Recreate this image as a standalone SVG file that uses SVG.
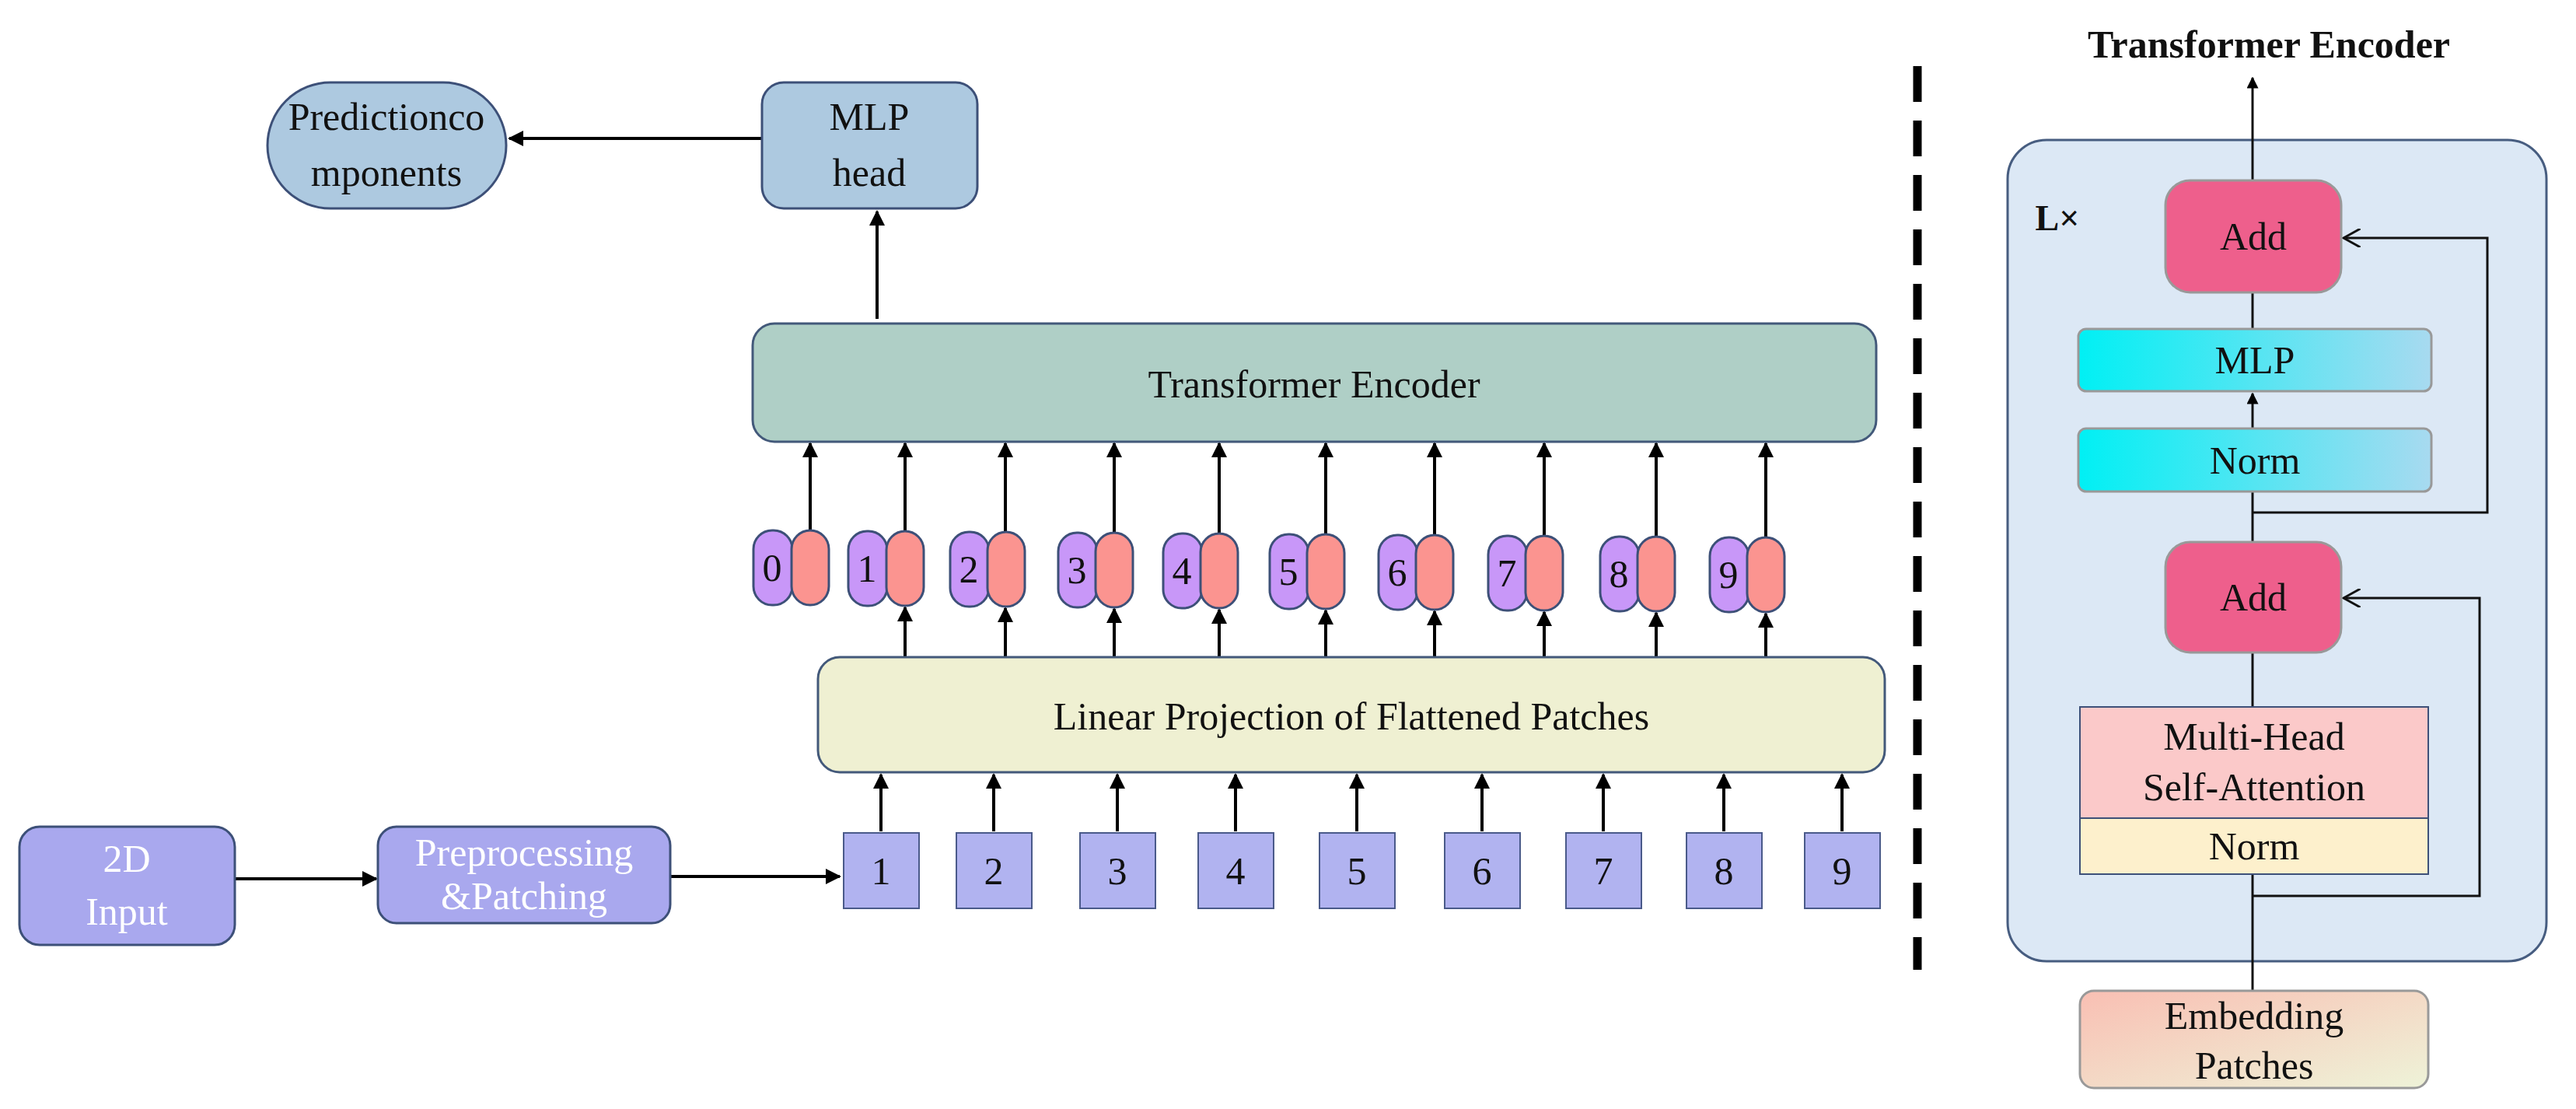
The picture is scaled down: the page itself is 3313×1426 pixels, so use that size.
<svg xmlns="http://www.w3.org/2000/svg" width="3313" height="1426" viewBox="0 0 3313 1426">
<style>
text{font-family:"Liberation Serif","Times New Roman",serif;font-size:50px;fill:#111;text-anchor:middle;dominant-baseline:central}
.w{fill:#fff}
.ln{stroke:#000;stroke-width:4;fill:none}
.thin{stroke:#111;stroke-width:3;fill:none}
.pu{fill:#a9a8ee;stroke:#3d5078;stroke-width:3}
.tk1{fill:#c897f8;stroke:#3d5078;stroke-width:3}
.tk2{fill:#fb9490;stroke:#3d5078;stroke-width:3}
.sq{fill:#b1b3f0;stroke:#4a5a8a;stroke-width:2}
.gb{stroke:#999;stroke-width:3}
</style>
<defs>
<marker id="a" viewBox="0 0 10 10" refX="9" refY="5" markerWidth="5" markerHeight="5" orient="auto"><path d="M0,0L10,5L0,10z" fill="#000"/></marker>
<marker id="o" viewBox="0 0 10 10" refX="9" refY="5" markerWidth="8" markerHeight="8" orient="auto"><path d="M0,0L9,5L0,10" fill="none" stroke="#111" stroke-width="1.2"/></marker>
<linearGradient id="cy" x1="0" x2="1"><stop offset="0" stop-color="#00f0f4"/><stop offset="1" stop-color="#a8daf0"/></linearGradient>
<linearGradient id="em" x1="0" y1="0" x2="1" y2="1"><stop offset="0" stop-color="#f9bfb3"/><stop offset="1" stop-color="#eef3d8"/></linearGradient>
</defs>
<g id="connectors">
<line class="ln" x1="980" y1="178" x2="655" y2="178" marker-end="url(#a)"/>
<line class="ln" x1="1128" y1="410" x2="1128" y2="272" marker-end="url(#a)"/>
<line class="ln" x1="302" y1="1130" x2="484" y2="1130" marker-end="url(#a)"/>
<line class="ln" x1="862" y1="1127" x2="1080" y2="1127" marker-end="url(#a)"/>
<g id="tok-up">
<line class="ln" x1="1042" y1="682" x2="1042" y2="570" marker-end="url(#a)"/>
<line class="ln" x1="1164" y1="683" x2="1164" y2="570" marker-end="url(#a)"/>
<line class="ln" x1="1293" y1="684" x2="1293" y2="570" marker-end="url(#a)"/>
<line class="ln" x1="1433" y1="685" x2="1433" y2="570" marker-end="url(#a)"/>
<line class="ln" x1="1568" y1="686" x2="1568" y2="570" marker-end="url(#a)"/>
<line class="ln" x1="1705" y1="687" x2="1705" y2="570" marker-end="url(#a)"/>
<line class="ln" x1="1845" y1="688" x2="1845" y2="570" marker-end="url(#a)"/>
<line class="ln" x1="1986" y1="689" x2="1986" y2="570" marker-end="url(#a)"/>
<line class="ln" x1="2130" y1="690" x2="2130" y2="570" marker-end="url(#a)"/>
<line class="ln" x1="2271" y1="691" x2="2271" y2="570" marker-end="url(#a)"/>
</g>
<g id="lin-up">
<line class="ln" x1="1164" y1="845" x2="1164" y2="781" marker-end="url(#a)"/>
<line class="ln" x1="1293" y1="845" x2="1293" y2="782" marker-end="url(#a)"/>
<line class="ln" x1="1433" y1="845" x2="1433" y2="783" marker-end="url(#a)"/>
<line class="ln" x1="1568" y1="845" x2="1568" y2="784" marker-end="url(#a)"/>
<line class="ln" x1="1705" y1="845" x2="1705" y2="785" marker-end="url(#a)"/>
<line class="ln" x1="1845" y1="845" x2="1845" y2="786" marker-end="url(#a)"/>
<line class="ln" x1="1986" y1="845" x2="1986" y2="787" marker-end="url(#a)"/>
<line class="ln" x1="2130" y1="845" x2="2130" y2="788" marker-end="url(#a)"/>
<line class="ln" x1="2271" y1="845" x2="2271" y2="789" marker-end="url(#a)"/>
</g>
<g id="sq-up">
<line class="ln" x1="1133" y1="1069" x2="1133" y2="996" marker-end="url(#a)"/>
<line class="ln" x1="1278" y1="1069" x2="1278" y2="996" marker-end="url(#a)"/>
<line class="ln" x1="1437" y1="1069" x2="1437" y2="996" marker-end="url(#a)"/>
<line class="ln" x1="1589" y1="1069" x2="1589" y2="996" marker-end="url(#a)"/>
<line class="ln" x1="1745" y1="1069" x2="1745" y2="996" marker-end="url(#a)"/>
<line class="ln" x1="1906" y1="1069" x2="1906" y2="996" marker-end="url(#a)"/>
<line class="ln" x1="2062" y1="1069" x2="2062" y2="996" marker-end="url(#a)"/>
<line class="ln" x1="2217" y1="1069" x2="2217" y2="996" marker-end="url(#a)"/>
<line class="ln" x1="2369" y1="1069" x2="2369" y2="996" marker-end="url(#a)"/>
</g>
<line x1="2466" y1="85" x2="2466" y2="1247" stroke="#000" stroke-width="11" stroke-dasharray="46,24"/>
</g>
<g id="prediction"><rect class="pu" x="344" y="106" width="307" height="162" rx="81" style="fill:#adc9e0"/><text x="497" y="150">Predictionco</text><text x="497" y="222">mponents</text></g>
<g id="mlphead"><rect class="pu" x="980" y="106" width="277" height="162" rx="28" style="fill:#adc9e0"/><text x="1118" y="150">MLP</text><text x="1118" y="222">head</text></g>
<g id="transformer"><rect x="968" y="416" width="1445" height="152" rx="28" fill="#afcfc6" stroke="#43597a" stroke-width="3"/><text x="1690" y="494">Transformer Encoder</text></g>
<g id="tokens">
<g><rect class="tk1" x="969" y="682" width="50" height="96" rx="24"/><rect class="tk2" x="1018" y="682" width="48" height="96" rx="24"/><text x="993" y="730">0</text></g>
<g><rect class="tk1" x="1091" y="683" width="50" height="96" rx="24"/><rect class="tk2" x="1140" y="683" width="48" height="96" rx="24"/><text x="1115" y="731">1</text></g>
<g><rect class="tk1" x="1222" y="684" width="50" height="96" rx="24"/><rect class="tk2" x="1270" y="684" width="48" height="96" rx="24"/><text x="1246" y="732">2</text></g>
<g><rect class="tk1" x="1361" y="685" width="50" height="96" rx="24"/><rect class="tk2" x="1409" y="685" width="48" height="96" rx="24"/><text x="1385" y="733">3</text></g>
<g><rect class="tk1" x="1496" y="686" width="50" height="96" rx="24"/><rect class="tk2" x="1544" y="686" width="48" height="96" rx="24"/><text x="1520" y="734">4</text></g>
<g><rect class="tk1" x="1633" y="687" width="50" height="96" rx="24"/><rect class="tk2" x="1681" y="687" width="48" height="96" rx="24"/><text x="1657" y="735">5</text></g>
<g><rect class="tk1" x="1773" y="688" width="50" height="96" rx="24"/><rect class="tk2" x="1821" y="688" width="48" height="96" rx="24"/><text x="1797" y="736">6</text></g>
<g><rect class="tk1" x="1914" y="689" width="50" height="96" rx="24"/><rect class="tk2" x="1962" y="689" width="48" height="96" rx="24"/><text x="1938" y="737">7</text></g>
<g><rect class="tk1" x="2058" y="690" width="50" height="96" rx="24"/><rect class="tk2" x="2106" y="690" width="48" height="96" rx="24"/><text x="2082" y="738">8</text></g>
<g><rect class="tk1" x="2199" y="691" width="50" height="96" rx="24"/><rect class="tk2" x="2247" y="691" width="48" height="96" rx="24"/><text x="2223" y="739">9</text></g>
</g>
<g id="linear"><rect x="1052" y="845" width="1372" height="148" rx="28" fill="#eff0d2" stroke="#43597a" stroke-width="3"/><text x="1738" y="921">Linear Projection of Flattened Patches</text></g>
<g id="patches">
<rect class="sq" x="1085" y="1071" width="97" height="97"/><text x="1133" y="1120">1</text>
<rect class="sq" x="1230" y="1071" width="97" height="97"/><text x="1278" y="1120">2</text>
<rect class="sq" x="1389" y="1071" width="97" height="97"/><text x="1437" y="1120">3</text>
<rect class="sq" x="1541" y="1071" width="97" height="97"/><text x="1589" y="1120">4</text>
<rect class="sq" x="1697" y="1071" width="97" height="97"/><text x="1745" y="1120">5</text>
<rect class="sq" x="1858" y="1071" width="97" height="97"/><text x="1906" y="1120">6</text>
<rect class="sq" x="2014" y="1071" width="97" height="97"/><text x="2062" y="1120">7</text>
<rect class="sq" x="2169" y="1071" width="97" height="97"/><text x="2217" y="1120">8</text>
<rect class="sq" x="2321" y="1071" width="97" height="97"/><text x="2369" y="1120">9</text>
</g>
<g id="input2d"><rect class="pu" x="25" y="1063" width="277" height="152" rx="26"/><text class="w" x="163" y="1104">2D</text><text class="w" x="163" y="1172">Input</text></g>
<g id="preproc"><rect class="pu" x="486" y="1063" width="376" height="124" rx="24"/><text class="w" x="674" y="1096">Preprocessing</text><text class="w" x="674" y="1152">&amp;Patching</text></g>
<g id="encoder-detail">
<text x="2918" y="57" style="font-weight:bold;font-size:50px">Transformer Encoder</text>
<rect x="2582" y="180" width="693" height="1056" rx="50" fill="#dce8f5" stroke="#475d80" stroke-width="3"/>
<text x="2646" y="280" style="font-weight:bold;font-size:46px">L×</text>
<g id="enc-lines">
<line class="thin" x1="2897" y1="232" x2="2897" y2="100" marker-end="url(#a)"/>
<line class="thin" x1="2897" y1="376" x2="2897" y2="423"/>
<line class="thin" x1="2897" y1="551" x2="2897" y2="506" marker-end="url(#a)"/>
<line class="thin" x1="2897" y1="697" x2="2897" y2="632"/>
<polyline class="thin" points="2897,659 3199,659 3199,306 3014,306" marker-end="url(#o)"/>
<line class="thin" x1="2897" y1="839" x2="2897" y2="909"/>
<line class="thin" x1="2897" y1="1274" x2="2897" y2="1124"/>
<polyline class="thin" points="2897,1152 3189,1152 3189,769 3014,769" marker-end="url(#o)"/>
</g>
<g id="add1"><rect class="gb" x="2785" y="232" width="226" height="144" rx="32" fill="#ee5f8c"/><text x="2898" y="304">Add</text></g>
<g id="mlp"><rect class="gb" x="2673" y="423" width="454" height="80" rx="10" fill="url(#cy)"/><text x="2900" y="463">MLP</text></g>
<g id="norm1"><rect class="gb" x="2673" y="551" width="454" height="81" rx="10" fill="url(#cy)"/><text x="2900" y="592">Norm</text></g>
<g id="add2"><rect class="gb" x="2785" y="697" width="226" height="142" rx="32" fill="#ee5f8c"/><text x="2898" y="768">Add</text></g>
<g id="mhsa"><rect x="2675" y="909" width="448" height="143" fill="#fbc9c9" stroke="#3d5078" stroke-width="2"/><text x="2899" y="947">Multi-Head</text><text x="2899" y="1012">Self-Attention</text>
<rect x="2675" y="1052" width="448" height="72" fill="#fdf0cc" stroke="#3d5078" stroke-width="2"/><text x="2899" y="1088">Norm</text></g>
<g id="embed"><rect class="gb" x="2675" y="1274" width="448" height="125" rx="18" fill="url(#em)"/><text x="2899" y="1306">Embedding</text><text x="2899" y="1370">Patches</text></g>
</g>
</svg>
